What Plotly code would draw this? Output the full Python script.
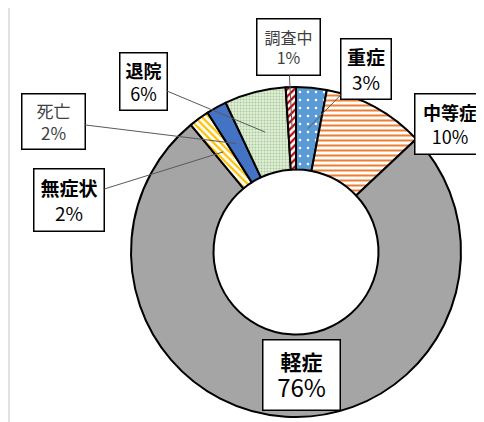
import math
import plotly.graph_objects as go

# ---- data ----
categories = ["重症", "中等症", "軽症", "無症状", "死亡", "退院", "調査中"]
percents = [3, 10, 76, 2, 2, 6, 1]
label_text = ["3%", "10%", "76%", "2%", "2%", "6%", "1%"]

# ---- styles ----
bg_colors = ["#5B9BD5", "#FFFFFF", "#A5A5A5", "#FFFFFF", "#4472C4", "#E2F0D9", "#FFFFFF"]
fg_colors = ["#FFFFFF", "#ED7D31", "#A5A5A5", "#FFC000", "#4472C4", "#A9C99A", "#C00000"]
shapes_pat = [".", "-", "", "\\", "", ".", "/"]
pat_size = [8, 5, 8, 5, 8, 3, 5]
pat_sol = [0.08, 0.4, 0.3, 0.45, 0.3, 0.35, 0.45]

OFF = 8            # page body margin
FW, FH = 476, 414  # figure size so that it fits the 484x422 window
CX, CY, R = 296, 252, 165   # screen pixels
HOLE = 0.5


def px2paper(sx, sy):
    return (sx - OFF) / FW, 1 - (sy - OFF) / FH


fig = go.Figure(go.Pie(
    labels=categories,
    values=percents,
    sort=False,
    direction="clockwise",
    rotation=0,
    hole=HOLE,
    textinfo="none",
    hoverinfo="label+percent",
    showlegend=False,
    marker=dict(
        colors=bg_colors,
        line=dict(color="#000000", width=2),
        pattern=dict(shape=shapes_pat, fgcolor=fg_colors, bgcolor=bg_colors,
                     size=pat_size, solidity=pat_sol, fillmode="replace"),
    ),
    domain=dict(x=[(CX - R - OFF) / FW, (CX + R - OFF) / FW],
                y=[1 - (CY + R - OFF) / FH, 1 - (CY - R - OFF) / FH]),
))

# label box layout: (center x px, center y px, width, height, bold, leader, font size)
boxes = {
    "重症": (366, 69, 52, 62, True, True, 19),
    "中等症": (450, 124, 72, 62, True, False, 18),
    "軽症": (301, 375, 79, 72, True, False, 21),
    "無症状": (69, 200, 72, 64, True, True, 19),
    "死亡": (53, 121, 65, 57, False, True, 17),
    "退院": (143, 81, 49, 59, True, True, 18),
    "調査中": (288, 47, 65, 58, False, True, 16),
}

total = sum(percents)
cum = 0
ring_r = R * (1 + HOLE) / 2
for cat, val, pct in zip(categories, percents, label_text):
    mid = (cum + val / 2) / total * 2 * math.pi
    cum += val
    bx, by, bw, bh, bold, leader, fsize = boxes[cat]
    color = "#000000" if bold else "#404040"
    if cat == "軽症":
        text = "<b>" + cat + "</b><br><span style='font-size:24px'>" + pct + "</span>"
    else:
        text = ("<b>" + cat + "</b>" if bold else cat) + "<br>" + pct
    common = dict(text=text, xref="paper", yref="paper",
                  font=dict(family="Noto Sans CJK JP", size=fsize, color=color),
                  bgcolor="#FFFFFF", bordercolor="#000000", borderwidth=1.5,
                  borderpad=0, width=bw - 3, height=bh - 3, align="center", valign="middle")
    if leader:
        px = CX + ring_r * math.sin(mid)
        py = CY - ring_r * math.cos(mid)
        x, y = px2paper(px, py)
        fig.add_annotation(x=x, y=y, showarrow=True, arrowhead=0,
                           arrowwidth=1, arrowcolor="#595959",
                           ax=bx - px, ay=by - py, axref="pixel", ayref="pixel", **common)
    else:
        x, y = px2paper(bx, by)
        fig.add_annotation(x=x, y=y, showarrow=False,
                           xanchor="center", yanchor="middle", **common)

fig.add_shape(type="line", xref="paper", yref="paper", x0=1 / FW, x1=1 / FW, y0=0, y1=1,
              line=dict(color="#D9D9D9", width=1.5))

fig.update_layout(width=FW, height=FH, margin=dict(l=0, r=0, t=0, b=0),
                  paper_bgcolor="#FFFFFF", plot_bgcolor="#FFFFFF")

fig.write_html("out.html")
